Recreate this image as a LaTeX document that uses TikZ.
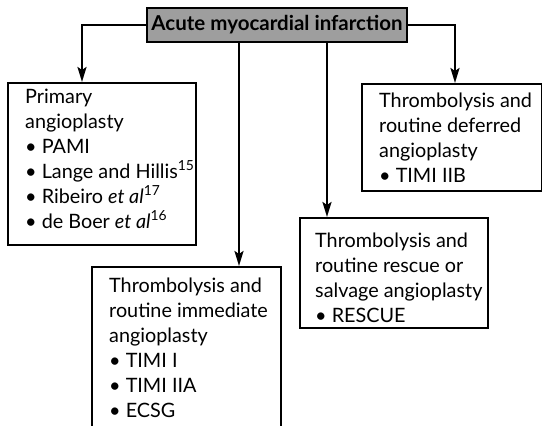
\documentclass[tikz,border=0pt]{standalone}
\usepackage{fontspec}
\setmainfont{Lato}
\usetikzlibrary{arrows.meta}
\begin{document}
\begin{tikzpicture}[x=1pt,y=-1pt,
  box/.style={draw,line width=1.5pt,anchor=north west,inner sep=0pt},
  txt/.style={anchor=north west,align=left,inner sep=0pt,font=\fontsize{19.8}{25}\selectfont},
  conn/.style={line width=2.2pt,-{Stealth[length=15pt,width=9pt,inset=3pt]}},
  titlebox/.style={draw,line width=1.8pt,fill=black!38,minimum width=260pt,minimum height=34pt,inner sep=0pt,font=\bfseries\fontsize{20.5}{24}\selectfont}
]
\clip (0,0) rectangle (542,426);
\useasboundingbox (0,0) rectangle (542,426);
\fill[white] (0,0) rectangle (542,426);

\node[titlebox] (T) at (277,25) {Acute myocardial infarction};

\node[box,minimum width=188pt,minimum height=162pt] (L) at (7,82) {};
\node[txt] (Lt) at (25,85.5) {\strut Primary\\angioplasty\\\textbullet\ PAMI\\\textbullet\ Lange and Hillis\textsuperscript{15}\\\textbullet\ Ribeiro \textit{et al}\textsuperscript{17}\\\textbullet\ de Boer \textit{et al}\textsuperscript{16}};

\node[box,minimum width=180pt,minimum height=107pt] (R) at (361,83) {};
\node[txt] (Rt) at (379,89.5) {\strut Thrombolysis and\\routine deferred\\angioplasty\\\textbullet\ TIMI IIB};

\node[box,minimum width=188pt,minimum height=110pt] (M) at (299,217) {};
\node[txt] (Mt) at (315,229.5) {\strut Thrombolysis and\\routine rescue or\\salvage angioplasty\\\textbullet\ RESCUE};

\node[box,minimum width=189pt,minimum height=180pt] (B) at (91,266) {};
\node[txt] (Bt) at (109,274.5) {\strut Thrombolysis and\\routine immediate\\angioplasty\\\textbullet\ TIMI I\\\textbullet\ TIMI IIA\\\textbullet\ ECSG};

\draw[conn] (T.west) -| (L.north -| 82,0);
\draw[conn] (T.east) -| (R.north -| 455,0);
\draw[conn] (T.south -| 239,0) -- (B.north -| 239,0);
\draw[conn] (T.south -| 327,0) -- (M.north -| 327,0);
\end{tikzpicture}
\end{document}
